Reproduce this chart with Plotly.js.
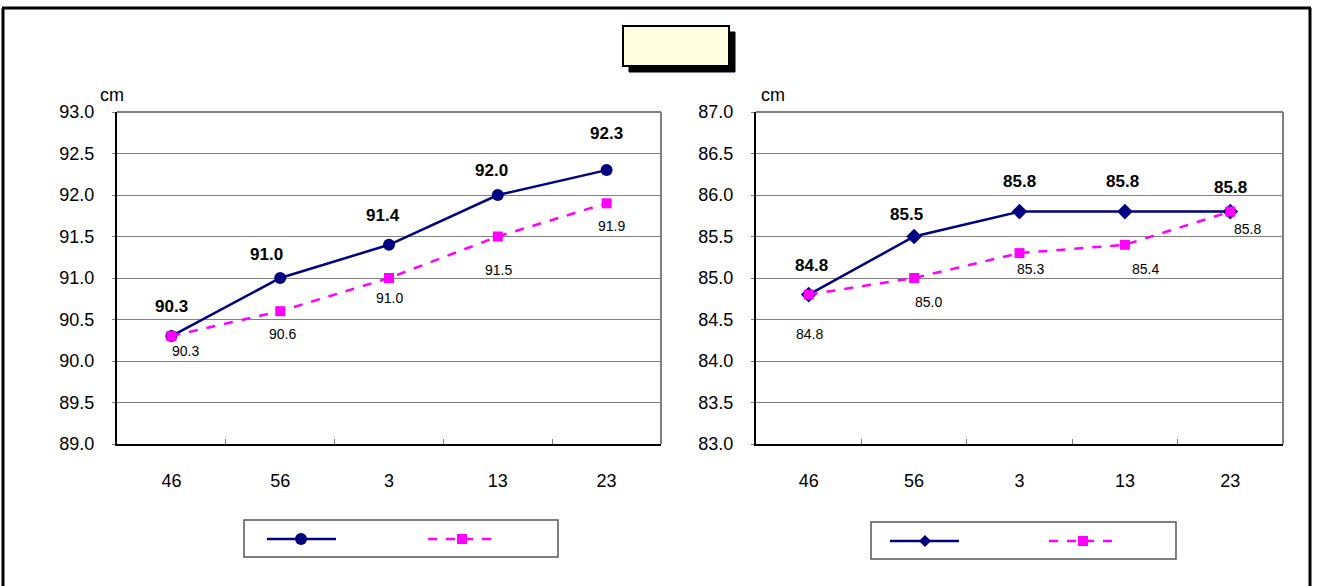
<!DOCTYPE html>
<html><head><meta charset="utf-8">
<script src="https://cdn.plot.ly/plotly-3.0.1.min.js"></script>
<style>html,body{margin:0;padding:0;background:#fff}#chart{width:1317px;height:586px}</style>
</head><body><div id="chart"></div>
<script>
// ---- data ----
const categories = ['46', '56', '3', '13', '23'];
const leftSeriesA = [90.3, 91.0, 91.4, 92.0, 92.3];
const leftSeriesB = [90.3, 90.6, 91.0, 91.5, 91.9];
const rightSeriesA = [84.8, 85.5, 85.8, 85.8, 85.8];
const rightSeriesB = [84.8, 85.0, 85.3, 85.4, 85.8];
const leftTicks = [89.0, 89.5, 90.0, 90.5, 91.0, 91.5, 92.0, 92.5, 93.0];
const rightTicks = [83.0, 83.5, 84.0, 84.5, 85.0, 85.5, 86.0, 86.5, 87.0];
const unitLabel = 'cm';

// ---- label offsets (pixels, style only) ----
const offLA = [[0,-30],[-14,-24],[-6,-29],[-6,-24],[0,-37]];
const offLB = [[14,15],[2,23],[0,20],[1,33],[5,23]];
const offRA = [[3,-29],[-8,-22],[0,-30],[-2,-30],[0,-24]];
const offRB = [[1,39],[14,24],[11,16],[21,24],[17,17]];

const W = 1317, H = 586;
const px = x => x / W, py = y => 1 - y / H;
const NAVY = '#000080', MAG = '#FF00FF', GRID = '#808080';
const FONT = 'Liberation Sans, Arial, sans-serif';
const idx = categories.map((c, i) => i);

function tr(y, xa, ya, color, dash, symbol, size) {
  return {x: idx, y: y, xaxis: xa, yaxis: ya, type: 'scatter', mode: 'lines+markers',
    line: {color: color, width: 2.5, dash: dash},
    marker: {symbol: symbol, size: size, color: color, line: {width: 0}},
    showlegend: false, hoverinfo: 'skip', cliponaxis: false};
}
const traces = [
  tr(leftSeriesA, 'x', 'y', NAVY, 'solid', 'circle', 12),
  tr(leftSeriesB, 'x', 'y', MAG, 'dash', 'square', 10),
  tr(rightSeriesA, 'x2', 'y2', NAVY, 'solid', 'diamond', 12),
  tr(rightSeriesB, 'x2', 'y2', MAG, 'dash', 'square', 10)
];

const annotations = [];
function labels(vals, offs, xr, yr, bold) {
  vals.forEach((v, i) => {
    annotations.push({x: idx[i], y: v, xref: xr, yref: yr, text: v.toFixed(1),
      showarrow: false, xshift: offs[i][0], yshift: -offs[i][1], xanchor: 'center', yanchor: 'middle',
      font: {family: FONT, size: bold ? 17 : 14, color: '#000', weight: bold ? 'bold' : 'normal'}});
  });
}
labels(leftSeriesA, offLA, 'x', 'y', true);
labels(leftSeriesB, offLB, 'x', 'y', false);
labels(rightSeriesA, offRA, 'x2', 'y2', true);
labels(rightSeriesB, offRB, 'x2', 'y2', false);
annotations.push({xref: 'paper', yref: 'paper', x: px(112), y: py(95), text: unitLabel, showarrow: false,
  xanchor: 'center', yanchor: 'middle', font: {family: FONT, size: 18, color: '#000'}});
annotations.push({xref: 'paper', yref: 'paper', x: px(773), y: py(95), text: unitLabel, showarrow: false,
  xanchor: 'center', yanchor: 'middle', font: {family: FONT, size: 18, color: '#000'}});

function xax(d0, d1, anchor) {
  return {domain: [px(d0), px(d1)], anchor: anchor, type: 'linear', range: [-0.5, 4.5],
    tickvals: idx, ticktext: categories, ticks: '',
    minor: {tickvals: [0.5, 1.5, 2.5, 3.5], ticks: 'inside', ticklen: 5, tickcolor: GRID, showgrid: false},
    showgrid: false, zeroline: false, showline: true, linecolor: '#000', linewidth: 2,
    ticklabelstandoff: 19,
    tickfont: {family: FONT, size: 18, color: '#000'}, fixedrange: true};
}
function yax(lo, hi, ticks, anchor) {
  return {domain: [py(444), py(112)], anchor: anchor, range: [lo, hi], tickvals: ticks,
    ticktext: ticks.map(t => t.toFixed(1)), showgrid: true, gridcolor: GRID, gridwidth: 1,
    zeroline: false, showline: true, linecolor: '#000', linewidth: 2,
    ticks: 'outside', ticklen: 3, tickcolor: GRID, ticklabelstandoff: 14,
    tickfont: {family: FONT, size: 18, color: '#000'}, fixedrange: true};
}

const shapes = [];
function line(x0, y0, x1, y1, color, w, dash) {
  shapes.push({type: 'line', xref: 'paper', yref: 'paper', x0: px(x0), y0: py(y0), x1: px(x1), y1: py(y1),
    line: {color: color, width: w, dash: dash || 'solid'}});
}
function rect(x0, y0, x1, y1, fill, color, w, layer) {
  shapes.push({type: 'rect', xref: 'paper', yref: 'paper', x0: px(x0), y0: py(y0), x1: px(x1), y1: py(y1),
    fillcolor: fill, line: {color: color, width: w}, layer: layer || 'above'});
}
// outer frame
line(2, 8, 1311, 8, '#000', 3);
line(3, 8, 3, 586, '#000', 3);
line(1310, 8, 1310, 586, '#000', 3);
// title box with shadow
rect(629, 32, 735, 72, '#000', '#000', 1);
rect(623, 26, 729, 66, '#FFFFE0', '#000', 2);
// plot area top/right borders
line(117, 112, 661, 112, GRID, 2);
line(661, 112, 661, 444, GRID, 2);
line(756, 112, 1283, 112, GRID, 2);
line(1283, 112, 1283, 444, GRID, 2);
// legends
rect(244, 520, 558, 557, 'rgba(0,0,0,0)', '#555', 1.5);
line(267, 539, 336, 539, NAVY, 2.5);
shapes.push({type: 'circle', xref: 'paper', yref: 'paper', x0: px(295), y0: py(533), x1: px(307), y1: py(545), fillcolor: NAVY, line: {width: 0}});
line(428, 539, 497, 539, MAG, 2.5, 'dash');
rect(457, 534, 467, 544, MAG, MAG, 0);
rect(871, 522, 1176, 559, 'rgba(0,0,0,0)', '#555', 1.5);
line(890, 541, 959, 541, NAVY, 2.5);
shapes.push({type: 'path', xref: 'paper', yref: 'paper',
  path: `M ${px(925)} ${py(535)} L ${px(931)} ${py(541)} L ${px(925)} ${py(547)} L ${px(919)} ${py(541)} Z`,
  fillcolor: NAVY, line: {width: 0}});
line(1049, 541, 1117, 541, MAG, 2.5, 'dash');
rect(1078, 536, 1088, 546, MAG, MAG, 0);

const layout = {
  width: W, height: H, margin: {l: 0, r: 0, t: 0, b: 0},
  paper_bgcolor: '#fff', plot_bgcolor: '#fff', showlegend: false,
  xaxis: xax(117, 661, 'y'), yaxis: yax(89, 93, leftTicks, 'x'),
  xaxis2: xax(756, 1283, 'y2'), yaxis2: yax(83, 87, rightTicks, 'x2'),
  annotations: annotations, shapes: shapes, font: {family: FONT}
};
Plotly.newPlot('chart', traces, layout, {staticPlot: true, displayModeBar: false});
</script></body></html>
